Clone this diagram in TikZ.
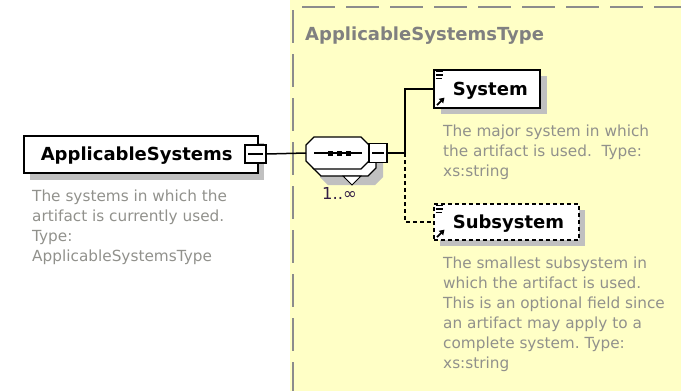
\documentclass[tikz,border=0pt]{standalone}
\usepackage{fontspec}
\setmainfont{DejaVu Sans}
\usetikzlibrary{arrows.meta}

\definecolor{typefill}{RGB}{255,255,198}
\definecolor{typeedge}{RGB}{140,140,140}
\definecolor{typetitle}{RGB}{128,128,128}
\definecolor{notetext}{RGB}{145,145,140}
\definecolor{boxshadow}{RGB}{192,192,192}
\definecolor{occurs}{RGB}{50,30,70}

\begin{document}
\begin{tikzpicture}[x=1pt,y=-1pt,
  elbox/.style={draw=black, line width=1.6pt, fill=white, inner xsep=0pt, inner ysep=0pt,
    align=left, text height=13pt, text depth=0pt, anchor=north west,
    font=\fontsize{18}{22}\selectfont\bfseries},
  optbox/.style={elbox, dash pattern=on 4pt off 3pt},
  note/.style={anchor=north west, inner sep=0pt, align=left, text=notetext,
    font=\fontsize{15.3}{20}\selectfont\frenchspacing},
  foldbox/.style={draw=black, line width=1.3pt, fill=white, inner sep=0pt},
  link/.style={line width=1.5pt},
  optlink/.style={line width=1.5pt, dash pattern=on 4pt off 3pt},
  typeborder/.style={typeedge, line width=2pt, dash pattern=on 33pt off 11pt},
  octagon/.style={line width=1.3pt}
]
\useasboundingbox (0,0) rectangle (681,391);

% complex type area
\fill[typefill] (290,0) rectangle (681,391);
\draw[typeborder] (302,7) -- (681,7);
\draw[typeborder] (293,10) -- (293,391);
\node[anchor=base west, inner sep=0pt, text=typetitle,
      font=\fontsize{18}{22}\selectfont\bfseries] (typename) at (305,40) {ApplicableSystemsType};

% root element
\fill[boxshadow] (30,143) rectangle (264,180);
\node[elbox, minimum width=234pt, minimum height=37pt, text width=234pt] (root) at (23,135)
  {\hspace*{17pt}ApplicableSystems};
\node[foldbox, minimum width=21pt, minimum height=18pt] (rootfold) at (255.5,154) {};
\draw[line width=1.3pt] ([xshift=4pt]rootfold.west) -- ([xshift=-4pt]rootfold.east);
\node[note] (rootnote) at (32,189.6)
  {The systems in which the\\artifact is currently used.\\Type:\\ApplicableSystemsType};

% sequence compositor: shadow, stacked copy, front octagon
\fill[boxshadow, shift={(320,153)}]
  (8,0) -- (55,0) -- (63,8) -- (63,24) -- (55,32) -- (8,32) -- (0,24) -- (0,8) -- cycle;
\filldraw[octagon, fill=white, shift={(313,144)}]
  (8,0) -- (55,0) -- (63,8) -- (63,24) -- (55,32) -- (8,32) -- (0,24) -- (0,8) -- cycle;
\filldraw[line width=1pt, fill=white] (343,176) -- (361,176) -- (352,185) -- cycle;
\filldraw[octagon, fill=white, shift={(306,137)}]
  (8,0) -- (55,0) -- (63,8) -- (63,24) -- (55,32) -- (8,32) -- (0,24) -- (0,8) -- cycle;
\coordinate (seqwest) at (306,153);
\draw[line width=1.3pt] (314,153) -- (362,153);
\foreach \d in {330,339,348}
  \fill (\d,153) +(-2.5,-2.5) rectangle +(2.5,2.5);
\node[foldbox, minimum width=18pt, minimum height=19pt] (seqfold) at (378,153) {};
\draw[line width=1.3pt] ([xshift=4pt]seqfold.west) -- ([xshift=-4pt]seqfold.east);
\node[anchor=base west, inner sep=0pt, text=occurs, font=\fontsize{16.5}{20}\selectfont]
  (occ) at (322,199) {1..∞};

% child elements
\fill[boxshadow] (441,76) rectangle (547,114);
\node[elbox, minimum width=106pt, minimum height=38pt, text width=106pt] (sys) at (433,69)
  {\hspace*{19pt}System};
\node[note] (sysnote) at (443,124.6)
  {The major system in which\\the artifact is used.\ \ Type:\\xs:string};

\fill[boxshadow] (440,210) rectangle (585,246);
\node[optbox, minimum width=145pt, minimum height=36pt, text width=145pt] (sub) at (433,203)
  {\hspace*{19pt}Subsystem};
\node[note] (subnote) at (443,256.6)
  {The smallest subsystem in\\which the artifact is used.\\This is an optional field since\\an artifact may apply to a\\complete system. Type:\\xs:string};

% element markers: documentation lines and type reference arrow
\foreach \b in {sys,sub}{
  \draw[line width=1.1pt]
    ([shift={(2.7,2.7)}]\b.north west) -- ([shift={(10.3,2.7)}]\b.north west)
    ([shift={(2.7,6)}]\b.north west) -- ([shift={(10.3,6)}]\b.north west)
    ([shift={(2.7,9.3)}]\b.north west) -- ([shift={(9,9.3)}]\b.north west);
  \draw[line width=1.8pt, -{Triangle[length=5pt,width=6pt]}]
    ([shift={(4,-3.5)}]\b.south west) -- ([shift={(11.5,-11)}]\b.south west);
}

% connectors
\coordinate (branch) at (405,153);
\draw[link] (rootfold.east) -- (seqwest);
\draw[link] (seqfold.east) -- (branch);
\draw[link] (branch) |- (sys.west);
\draw[optlink] (branch) |- (sub.west);
\end{tikzpicture}
\end{document}
